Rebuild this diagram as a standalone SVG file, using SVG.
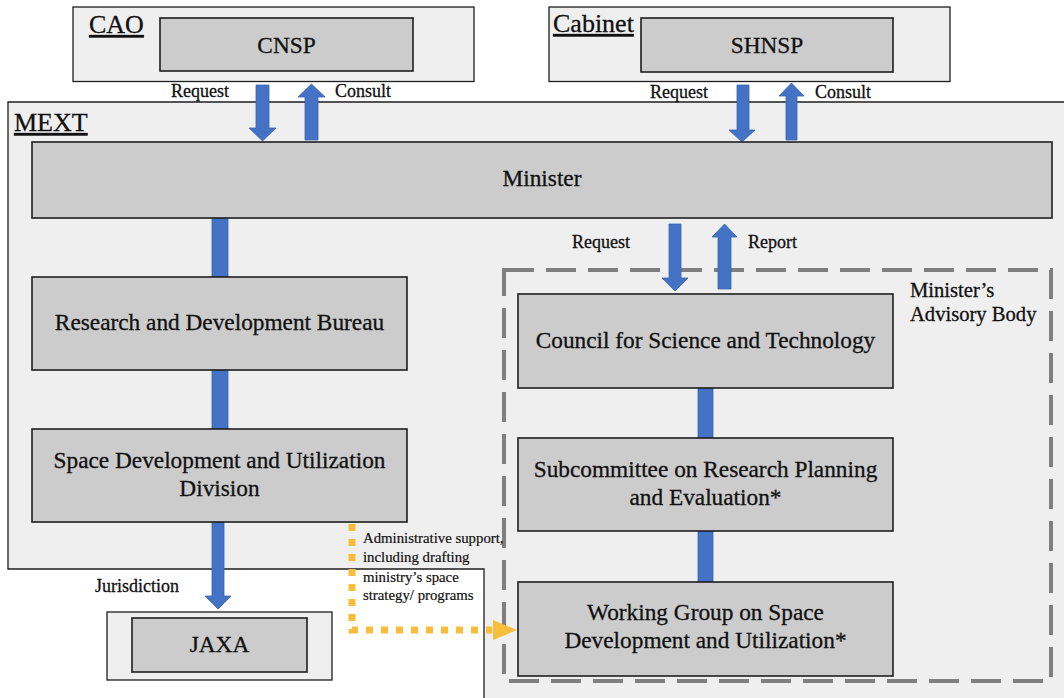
<svg xmlns="http://www.w3.org/2000/svg" width="1064" height="698" viewBox="0 0 1064 698">
<defs>
<style>
.outer{fill:#efefef;stroke:#1e1e1e;stroke-width:1.3}
.box{fill:#cccccc;stroke:#1e1e1e;stroke-width:1.6}
.t{font-family:"Liberation Serif","Times New Roman",serif;fill:#111;stroke:#111;stroke-width:0.3}
.lbl{font-size:23.3px;text-anchor:middle}
.sm{font-size:18px}
.hd{font-size:26px;text-decoration:underline}
.adm{font-size:14.8px;stroke-width:0.2}
.blue{fill:#4472c4;stroke:#3a64b0;stroke-width:0.8}
.dash{fill:none;stroke:#7f7f7f;stroke-width:4;stroke-dasharray:30 12}
.dot{fill:none;stroke:#f8bd3a;stroke-width:7;stroke-dasharray:7 8}
</style>
</defs>
<rect x="0" y="0" width="1064" height="698" fill="#ffffff"/>

<g id="mext">
<path class="outer" d="M8 102 L1070 102 L1070 705 L484 705 L484 569 L8 569 Z"/>
<text class="t hd" x="14" y="131">MEXT</text>
</g>

<g id="cao">
<rect class="outer" x="73" y="7" width="401" height="74.5"/>
<text class="t hd" x="89" y="33">CAO</text>
</g>
<g id="cnsp">
<rect class="box" x="160" y="18" width="253" height="53"/>
<text class="t lbl" x="286.5" y="53">CNSP</text>
</g>

<g id="cabinet">
<rect class="outer" x="549" y="7" width="401" height="74.5"/>
<text class="t hd" x="553" y="32">Cabinet</text>
</g>
<g id="shnsp">
<rect class="box" x="641" y="18" width="252" height="54"/>
<text class="t lbl" x="767" y="53">SHNSP</text>
</g>

<g id="advisory">
<rect class="dash" x="504" y="270" width="547" height="411"/>
<text class="t" font-size="20.6" x="910" y="297">Minister’s</text>
<text class="t" font-size="20.6" x="910" y="321">Advisory Body</text>
</g>

<g id="connectors">
<polygon class="blue" points="256,85 269,85 269,128 276,128 262.5,141 249,128 256,128"/>
<polygon class="blue" points="305,140 318,140 318,97 325,97 311.5,84 298,97 305,97"/>
<polygon class="blue" points="737,85 749,85 749,130 755,130 742,142 729,130 737,130"/>
<polygon class="blue" points="786,140 797,140 797,96 804,96 791.5,83 779,96 786,96"/>
<polygon class="blue" points="669,224 681,224 681,278 688,278 675,291 662,278 669,278"/>
<polygon class="blue" points="718,289 731,289 731,237 737,237 724.5,224 712,237 718,237"/>
<rect class="blue" x="212" y="218" width="16" height="59"/>
<rect class="blue" x="212" y="370" width="16" height="59"/>
<polygon class="blue" points="212,522 224,522 224,596 231,596 218,609 205,596 212,596"/>
<rect class="blue" x="698" y="388" width="15" height="50"/>
<rect class="blue" x="698" y="531" width="15" height="51"/>
<path class="dot" d="M352 524 L352 630 L492 630"/>
<polygon points="493,620 517,630 493,640" fill="#f8bd3a"/>
<text class="t sm" x="171" y="97">Request</text>
<text class="t sm" x="335" y="97">Consult</text>
<text class="t sm" x="650" y="98">Request</text>
<text class="t sm" x="815" y="98">Consult</text>
<text class="t sm" x="572" y="248">Request</text>
<text class="t sm" x="748" y="248">Report</text>
<text class="t sm" x="95" y="592">Jurisdiction</text>
<text class="t adm" x="363" y="543">Administrative support,</text>
<text class="t adm" x="363" y="562">including drafting</text>
<text class="t adm" x="363" y="582">ministry’s space</text>
<text class="t adm" x="363" y="600">strategy/ programs</text>
</g>

<g id="minister">
<rect class="box" x="32" y="142" width="1020" height="76"/>
<text class="t lbl" x="542" y="186">Minister</text>
</g>

<g id="rdb">
<rect class="box" x="32" y="277" width="375" height="93"/>
<text class="t lbl" x="219.5" y="330">Research and Development Bureau</text>
</g>

<g id="sdud">
<rect class="box" x="32" y="429" width="375" height="93"/>
<text class="t lbl" x="219.5" y="468">Space Development and Utilization</text>
<text class="t lbl" x="219.5" y="496">Division</text>
</g>

<g id="jaxa">
<rect class="outer" x="107" y="612" width="225" height="68"/>
<rect class="box" x="132" y="618" width="175" height="54"/>
<text class="t lbl" x="219.5" y="652">JAXA</text>
</g>

<g id="council">
<rect class="box" x="518" y="294" width="375" height="94"/>
<text class="t lbl" x="705.5" y="348">Council for Science and Technology</text>
</g>

<g id="subcommittee">
<rect class="box" x="518" y="438" width="375" height="93"/>
<text class="t lbl" x="705.5" y="477">Subcommittee on Research Planning</text>
<text class="t lbl" x="705.5" y="505">and Evaluation*</text>
</g>

<g id="working-group">
<rect class="box" x="518" y="582" width="375" height="94"/>
<text class="t lbl" x="705.5" y="620">Working Group on Space</text>
<text class="t lbl" x="705.5" y="648">Development and Utilization*</text>
</g>
</svg>
